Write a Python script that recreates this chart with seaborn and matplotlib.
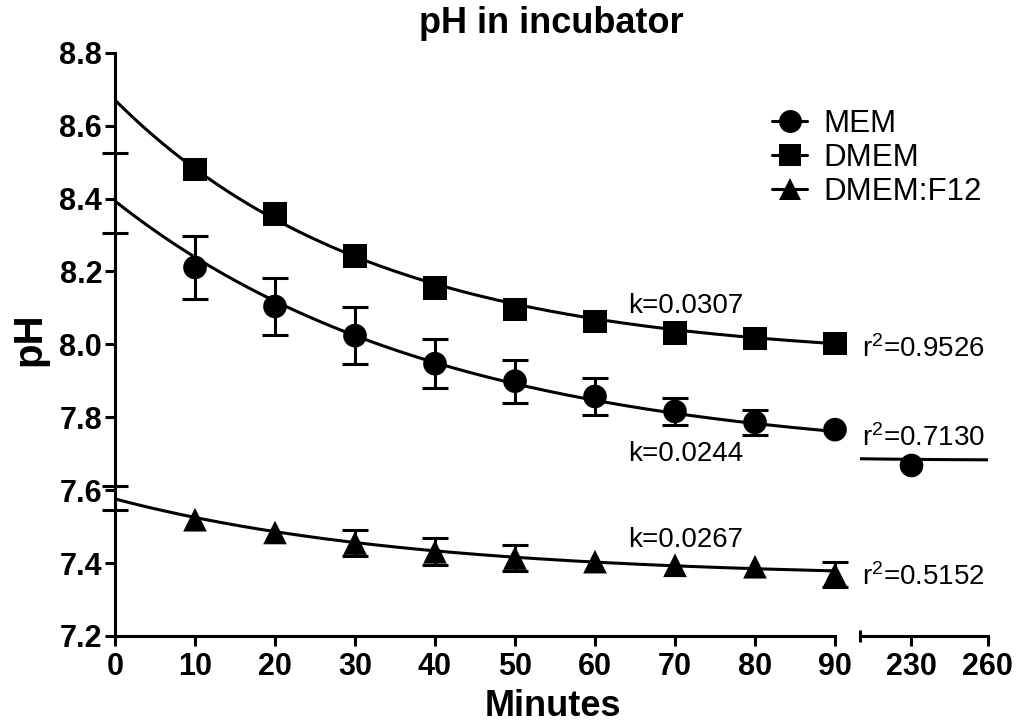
import numpy as np
import pandas as pd
import matplotlib
matplotlib.use("Agg")
import matplotlib.pyplot as plt
import seaborn as sns
from matplotlib.lines import Line2D

# ---------------- data ----------------
media = ["MEM", "DMEM", "DMEM:F12"]
minutes = [10, 20, 30, 40, 50, 60, 70, 80, 90]
mem_ph = [8.211, 8.104, 8.024, 7.947, 7.899, 7.857, 7.816, 7.786, 7.766]
mem_err = [0.086, 0.077, 0.079, 0.068, 0.059, 0.050, 0.036, 0.035, 0.0]
dmem_ph = [8.480, 8.357, 8.242, 8.155, 8.096, 8.063, 8.032, 8.016, 8.002]
dmem_err = [0.0, 0.0, 0.0, 0.0, 0.0, 0.0, 0.0, 0.0, 0.0]
f12_ph = [7.519, 7.484, 7.455, 7.431, 7.414, 7.404, 7.394, 7.390, 7.369]
f12_err = [0.0, 0.0, 0.035, 0.037, 0.036, 0.0, 0.0, 0.0, 0.035]
# time zero: only the error bars are visible
t0_media = ["MEM", "DMEM:F12"]
t0_ph = [8.415, 7.579]
t0_err = [0.109, 0.033]
# late time point (broken axis)
late_minutes = [230]
late_mem_ph = [7.670]
# one-phase decay fits
fit_y0 = [8.393, 8.670, 7.576]
fit_plateau = [7.682, 7.957, 7.359]
fit_k = [0.0244, 0.0307, 0.0267]
r2 = [0.7130, 0.9526, 0.5152]

x_ticks_1 = [0, 10, 20, 30, 40, 50, 60, 70, 80, 90]
x_ticks_2 = [230, 260]
y_ticks = [7.2, 7.4, 7.6, 7.8, 8.0, 8.2, 8.4, 8.6, 8.8]

# ---------------- style ----------------
sns.set_theme(style="ticks")
plt.rcParams["font.family"] = ["Liberation Sans", "DejaVu Sans"]
plt.rcParams["mathtext.default"] = "regular"
plt.rcParams["axes.linewidth"] = 2.2
for key in ["text.color", "axes.labelcolor", "xtick.color", "ytick.color",
            "axes.edgecolor", "xtick.labelcolor", "ytick.labelcolor"]:
    plt.rcParams[key] = "black"

markers = {"MEM": "o", "DMEM": "s", "DMEM:F12": "^"}
LW = 2.2

df = pd.DataFrame({
    "minutes": minutes * 3,
    "pH": mem_ph + dmem_ph + f12_ph,
    "err": mem_err + dmem_err + f12_err,
    "medium": ["MEM"] * 9 + ["DMEM"] * 9 + ["DMEM:F12"] * 9,
})
df_late = pd.DataFrame({"minutes": late_minutes, "pH": late_mem_ph,
                        "medium": ["MEM"] * len(late_minutes)})

W, H = 1018, 724
fig = plt.figure(figsize=(W / 100, H / 100), dpi=100)
ax_b = 88 / H
ax_h = (636 - 52.7) / H
ax2 = fig.add_axes([860 / W, ax_b, 127.7 / W, ax_h])
ax1 = fig.add_axes([115 / W, ax_b, 720 / W, ax_h])
ax1.patch.set_alpha(0)
ax2.patch.set_alpha(0)
ax1.set_zorder(3)
ax2.set_zorder(2)

# fitted curves
xs1 = np.linspace(0, 90, 300)
for m, y0, p, k in zip(media, fit_y0, fit_plateau, fit_k):
    ys = p + (y0 - p) * np.exp(-k * xs1)
    sns.lineplot(x=xs1, y=ys, color="black", lw=LW, ax=ax1, zorder=2)
xs2 = np.linspace(210, 260, 50)
ys2 = fit_plateau[0] + (fit_y0[0] - fit_plateau[0]) * np.exp(-fit_k[0] * xs2)
sns.lineplot(x=xs2, y=ys2, color="black", lw=LW, ax=ax2, zorder=2)

# error bars
def draw_err(ax, x, y, e):
    eb = ax.errorbar(x, y, yerr=e, fmt="none", ecolor="black",
                     elinewidth=LW, capsize=9.5, capthick=LW, zorder=3)
    for art in eb.lines[1] + eb.lines[2]:
        art.set_clip_on(False)

sub = df[df["err"] > 0]
draw_err(ax1, sub["minutes"], sub["pH"], sub["err"])
draw_err(ax1, [0] * len(t0_ph), t0_ph, t0_err)

# markers
sns.scatterplot(data=df, x="minutes", y="pH", style="medium", markers=markers,
                color="black", edgecolor="black", linewidth=0, s=290,
                legend=False, ax=ax1, zorder=4, clip_on=False)
sns.scatterplot(data=df_late, x="minutes", y="pH", style="medium",
                markers={"MEM": "o"}, color="black", edgecolor="black",
                linewidth=0, s=290, legend=False, ax=ax2, zorder=4, clip_on=False)

# axes
for ax in (ax1, ax2):
    ax.set_ylim(7.2, 8.8)
    ax.set_xlabel("")
    ax.set_ylabel("")
    ax.spines["top"].set_visible(False)
    ax.spines["right"].set_visible(False)
    ax.tick_params(axis="both", width=LW, length=7.2, color="black",
                   labelsize=22, pad=3, labelcolor="black")
ax1.set_xlim(0, 90)
ax2.set_xlim(210, 260)
ax1.set_xticks(x_ticks_1, [str(t) for t in x_ticks_1], fontweight="bold", fontsize=22)
ax1.set_yticks(y_ticks, [f"{t:.1f}" for t in y_ticks], fontweight="bold", fontsize=22)
ax2.set_xticks(x_ticks_2, [str(t) for t in x_ticks_2], fontweight="bold", fontsize=22)
ax1.tick_params(axis="x", pad=4)
ax2.tick_params(axis="x", pad=4)
ax1.tick_params(axis="y", pad=2)
ax2.spines["left"].set_visible(False)
ax2.tick_params(axis="y", left=False, labelleft=False)
# break marks at the ends of the two segments
ax1.set_xticks([90], minor=True)
ax1.tick_params(axis="x", which="minor", direction="in", length=3, width=LW)
ax2.set_xticks([210], minor=True)
ax2.tick_params(axis="x", which="minor", direction="inout", length=8.6, width=LW)
ax1.grid(False)
ax2.grid(False)

# annotations
k_pos_y = [7.681, 8.087, 7.445]
r2_pos_y = [7.722, 7.964, 7.340]
for k, ky, r, ry in zip(fit_k, k_pos_y, r2, r2_pos_y):
    ax1.text(64.1, ky, f"k={k:.4f}", fontsize=20, va="baseline", ha="left",
             color="black")
    ax1.text(93.4, ry, f"r$^2$={r:.4f}", fontsize=20, va="baseline", ha="left",
             color="black", clip_on=False)

# legend
handles = [Line2D([], [], color="black", lw=LW, marker=markers[m],
                  markersize=16.5, markeredgewidth=0) for m in media]
leg = ax1.legend(handles, media, loc="upper left",
                 bbox_to_anchor=(772 / W, 1 - 109 / H),
                 bbox_transform=fig.transFigure, frameon=False, fontsize=22.5,
                 handlelength=1.12, handletextpad=0.52, labelspacing=0.13,
                 borderpad=0, borderaxespad=0)
for t in leg.get_texts():
    t.set_color("black")

# titles
fig.text(551 / W, 1 - 33 / H, "pH in incubator", fontsize=26, fontweight="bold",
         ha="center", va="baseline", color="black")
fig.text(553 / W, 1 - 716 / H, "Minutes", fontsize=26, fontweight="bold",
         ha="center", va="baseline", color="black")
fig.text(29 / W, 1 - 339 / H, "pH", fontsize=29, fontweight="bold",
         rotation=90, ha="center", va="center", color="black")

fig.savefig("out.png", dpi=100)
